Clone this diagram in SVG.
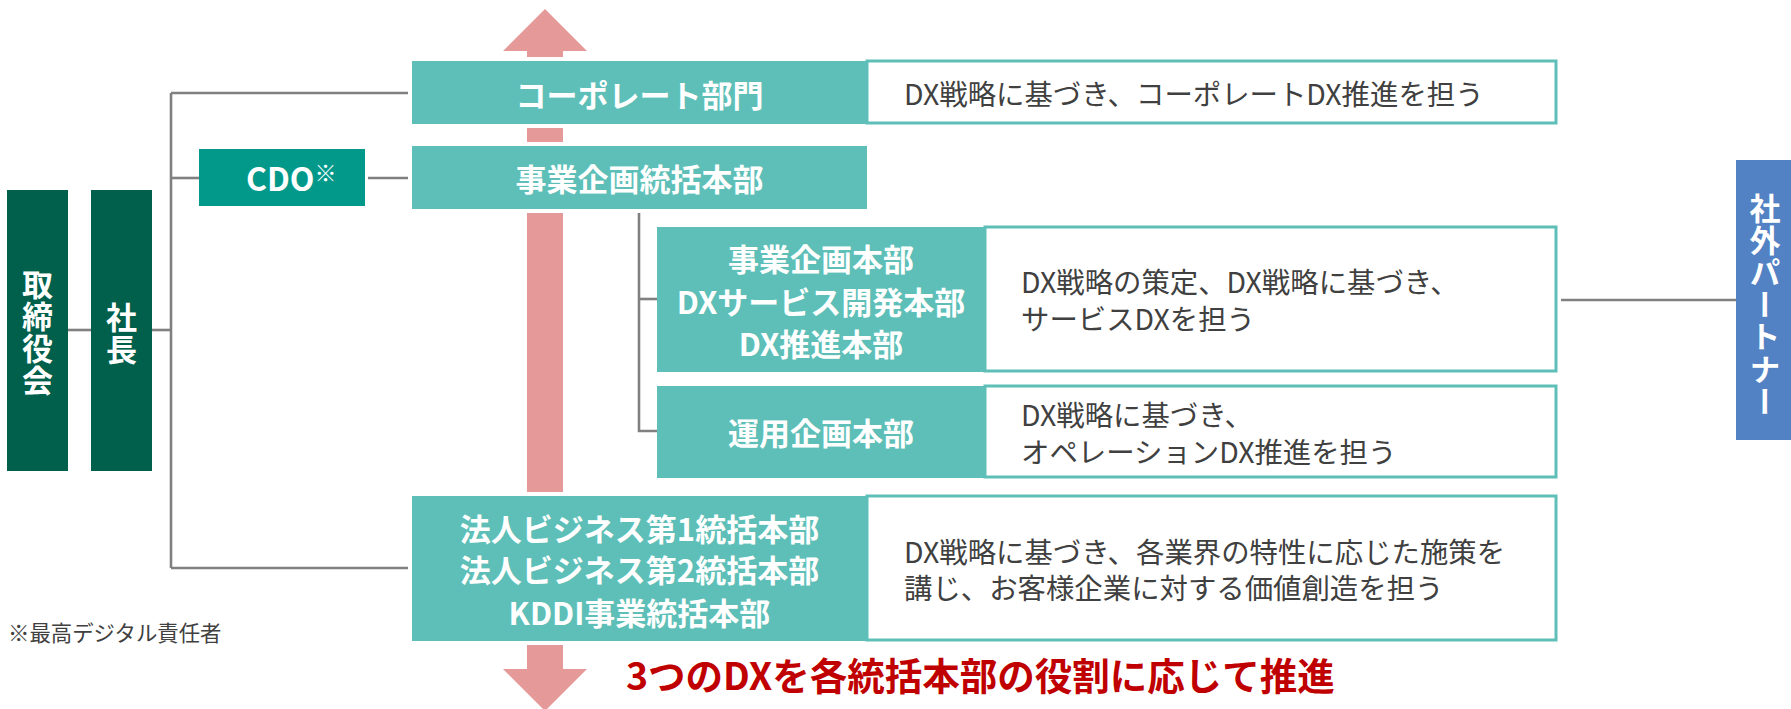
<svg xmlns="http://www.w3.org/2000/svg" width="1791" height="709" viewBox="0 0 1791 709">
<style>
.t{font-family:"Noto Sans CJK JP","Noto Sans",sans-serif;}
.w{fill:#ffffff;font-weight:700;font-size:31px;text-anchor:middle;}
.d{fill:#404040;font-weight:400;font-size:28.4px;}
.teal{fill:#5DBFB8;}
.desc{fill:#ffffff;stroke:#5DBFB8;stroke-width:3;}
.halo{fill:#ffffff;}
.ln{stroke:#808080;stroke-width:2.6;fill:none;}
.vt{writing-mode:vertical-rl;text-orientation:upright;}
</style>
<rect width="1791" height="709" fill="#ffffff"/>
<g id="arrow">
<path d="M503,51 L545,9 L587,51 L563,51 L563,669 L587,669 L545,711 L503,669 L527,669 L527,51 Z" fill="#E59A99"/>
</g>
<g id="connectors">
<path class="ln" d="M68,330 H91"/>
<path class="ln" d="M152,330 H171"/>
<path class="ln" d="M171,93 V568"/>
<path class="ln" d="M171,93 H412"/>
<path class="ln" d="M171,178 H199"/>
<path class="ln" d="M368,178 H408"/>
<path class="ln" d="M171,568 H412"/>
<path class="ln" d="M639,209 V431 H657"/>
<path class="ln" d="M639,299 H657"/>
<path class="ln" d="M1561,300 H1736"/>
</g>
<g id="board">
<rect x="7" y="190" width="61" height="281" fill="#00604B"/>
<text class="t w vt" x="37.5" y="333" letter-spacing="1">取締役会</text>
</g>
<g id="president">
<rect x="91" y="190" width="61" height="281" fill="#00604B"/>
<text class="t w vt" x="121.5" y="334" letter-spacing="1">社長</text>
</g>
<g id="cdo">
<rect x="199" y="149" width="166" height="57" fill="#02998B"/>
<text class="t" x="246" y="191" fill="#ffffff" font-weight="700" font-size="32">CDO<tspan font-size="22" dy="-10">※</tspan></text>
</g>
<g id="corporate">
<rect class="halo" x="408" y="57" width="1153" height="71"/>
<rect class="teal" x="412" y="61" width="455" height="63"/>
<rect class="desc" x="867" y="61" width="689" height="62"/>
<text class="t w" x="639.5" y="107">コーポレート部門</text>
<text class="t d" x="904" y="105">DX戦略に基づき、コーポレートDX推進を担う</text>
</g>
<g id="bizplan-hq">
<rect class="halo" x="408" y="142" width="463" height="71"/>
<rect class="teal" x="412" y="146" width="455" height="63"/>
<text class="t w" x="639.5" y="191">事業企画統括本部</text>
</g>
<g id="service-dx">
<rect class="teal" x="657" y="227" width="328" height="145"/>
<rect class="desc" x="985" y="227" width="571" height="144"/>
<text class="t w"><tspan x="821" y="271">事業企画本部</tspan><tspan x="821" y="314">DXサービス開発本部</tspan><tspan x="821" y="356">DX推進本部</tspan></text>
<text class="t d"><tspan x="1021" y="293">DX戦略の策定、DX戦略に基づき、</tspan><tspan x="1021" y="329.5">サービスDXを担う</tspan></text>
</g>
<g id="operation">
<rect class="teal" x="657" y="386" width="328" height="92"/>
<rect class="desc" x="985" y="386" width="571" height="91"/>
<text class="t w" x="821" y="445">運用企画本部</text>
<text class="t d"><tspan x="1021" y="425.5">DX戦略に基づき、</tspan><tspan x="1021" y="462.5">オペレーションDX推進を担う</tspan></text>
</g>
<g id="corporate-business">
<rect class="halo" x="408" y="492" width="1153" height="153"/>
<rect class="teal" x="412" y="496" width="455" height="145"/>
<rect class="desc" x="867" y="496" width="689" height="144"/>
<text class="t w"><tspan x="639.5" y="541">法人ビジネス第1統括本部</tspan><tspan x="639.5" y="582">法人ビジネス第2統括本部</tspan><tspan x="639.5" y="625">KDDI事業統括本部</tspan></text>
<text class="t d"><tspan x="904" y="562.5">DX戦略に基づき、各業界の特性に応じた施策を</tspan><tspan x="904" y="598.5">講じ、お客様企業に対する価値創造を担う</tspan></text>
</g>
<g id="partner">
<rect x="1736" y="160" width="55" height="280" fill="#5282C4"/>
<text class="t w vt" x="1765" y="305" letter-spacing="1.2">社外パートナー</text>
</g>
<g id="notes">
<text class="t" x="8" y="641" fill="#404040" font-size="21.4">※最高デジタル責任者</text>
<text class="t" x="626" y="690" fill="#C00000" font-weight="700" font-size="37.5">3つのDXを各統括本部の役割に応じて推進</text>
</g>
</svg>
